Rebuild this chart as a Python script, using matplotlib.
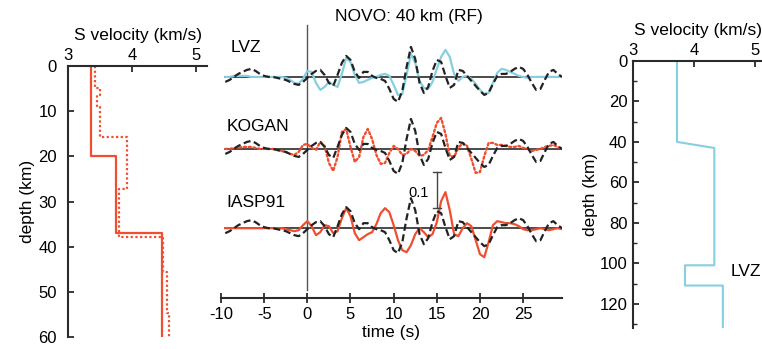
import numpy as np
import matplotlib
matplotlib.use("Agg")
import matplotlib.pyplot as plt

plt.rcParams['font.family'] = ['Liberation Sans', 'DejaVu Sans']
plt.rcParams['axes.unicode_minus'] = False

# ---------------- data ----------------
# Left panel: S-velocity models (layer tops in km, Vs in km/s)
kogan_tops = [0, 4.9, 6.4, 9.0, 15.7, 27.2, 37.9, 45.7, 54.6]
kogan_vs = [3.42, 3.50, 3.45, 3.50, 3.92, 3.79, 4.49, 4.54, 4.57]
iasp_tops = [0, 20, 37]
iasp_vs = [3.36, 3.75, 4.47]
left_bottom = 60

# Right panel: LVZ model vertices
lvz_model_depth = [0, 40, 43, 101, 101, 111, 111, 132]
lvz_model_vs = [3.72, 3.72, 4.33, 4.33, 3.85, 3.85, 4.47, 4.47]

# Middle panel: receiver functions, sampled every 0.5 s from -9.5 s to 29.5 s
# amplitudes in digitizer counts, 36 counts = 0.1 (scale bar)
rf_t0, rf_dt = -9.5, 0.5
observed = [-5, -3, 0, 3, 5, 7, 8, 6, 3, 1,
            0, 0, -1, -2, -3, -5, -7, -8, -5, -1,
            3, 6, 7, 2, -6, -9, 2, 14, 21, 17,
            5, -1, 5, 5, 1, -1, -2, -4, -12, -22,
            -25, -14, 10, 30, 18, -6, -16, -10, 6, 17,
            15, 1, -11, -8, 7, 6, 1, -4, -9, -14,
            -18, -16, -7, 1, 3, 3, 5, 8, 10, 8,
            2, -6, -13, -12, -3, 5, 7, 3, 0]
synth_lvz = [0, 0, 1, 1, 1, 1, 0, 0, 0, 0,
             0, 0, 0, 0, -1, -3, -6, -7, -2, 6,
             5, -6, -13, -10, -5, -8, -10, 3, 19, 15,
             2, -6, -5, -3, -1, 0, 2, 3, 1, -8,
             -18, -17, 2, 23, 14, -4, -11, -12, -5, 8,
             20, 27, 20, 3, -4, 0, 1, -2, -7, -13,
             -17, -16, -6, 4, 8, 7, 5, 3, 1, 0,
             -1, 0, 0, 0, 0, 0, 0, 0, 0]
synth_kogan = [0, 0, 1, 1, 2, 2, 2, 1, 0, 0,
               0, 0, -1, -2, -3, -5, -6, -3, 4, 5,
               1, -1, 7, 3, -14, -22, -8, 17, 20, 2,
               -13, -8, 12, 20, 10, -6, -15, -14, -4, 3,
               0, -6, -5, 0, -2, -7, -6, -1, 12, 26,
               31, 15, -7, -8, 1, 6, 3, -10, -24, -23,
               -7, 6, 6, 4, 4, 3, 2, 2, 3, 1,
               0, -2, -1, 0, 2, 3, 4, 2, 0]
synth_iasp = [0, 0, 0, 0, 0, 0, 0, 0, 0, 0,
              0, 0, 0, 0, -1, -2, -3, -2, 3, 7,
              2, -7, -4, 3, 2, -5, -3, 10, 20, 12,
              -5, -12, -9, -6, -4, 4, 15, 20, 16, 3,
              -12, -22, -24, -17, -6, 0, -4, -9, -6, 6,
              27, 36, 18, -6, -8, 0, 5, 2, -12, -26,
              -29, -14, 3, 7, 6, 5, 5, 4, 2, -1,
              -2, -2, -1, 0, -1, -2, -1, 0, -1]
counts_per_unit = 360.0
trace_labels = ['LVZ', 'KOGAN', 'IASP91']
trace_offsets = [0.0, -0.2, -0.42]
time_ticks = [-10, -5, 0, 5, 10, 15, 20, 25]

RED = '#ef4f30'
CYAN = '#86cfe0'
DARK = '#2b2b2b'


def steps(tops, vs, bottom):
    d, v = [], []
    bnds = list(tops[1:]) + [bottom]
    for top, bot, vel in zip(tops, bnds, vs):
        d += [top, bot]
        v += [vel, vel]
    return d, v


fig = plt.figure(figsize=(7.62, 3.49), dpi=100)
W, H = 762.0, 349.0


def axes_px(l, t, r, b):
    return fig.add_axes([l / W, 1 - b / H, (r - l) / W, (b - t) / H])


FS = 12.5
TFS = 12

# ---------------- left panel ----------------
axl = axes_px(68, 66, 207, 337)
d, v = steps(iasp_tops, iasp_vs, left_bottom)
axl.plot(v, d, color=RED, lw=1.6)
d, v = steps(kogan_tops, kogan_vs, left_bottom)
axl.plot(v, d, color=RED, lw=1.6, ls=(0, (1, 1.1)))
axl.set_xlim(3, 5.17)
axl.set_ylim(60, 0)
axl.xaxis.tick_top()
axl.xaxis.set_label_position('top')
axl.set_xticks([3, 4, 5])
axl.set_yticks([0, 10, 20, 30, 40, 50, 60])
for s in ['right', 'bottom']:
    axl.spines[s].set_visible(False)
for s in ['left', 'top']:
    axl.spines[s].set_color(DARK)
    axl.spines[s].set_linewidth(1.5)
axl.tick_params(direction='in', length=4, width=1.3, color=DARK, labelsize=TFS, pad=2)
axl.tick_params(axis='y', pad=8)
axl.set_xlabel('S velocity (km/s)', fontsize=FS, labelpad=6)
axl.set_ylabel('depth (km)', fontsize=FS, labelpad=2)

# ---------------- right panel ----------------
axr = axes_px(633, 61, 762, 328)
axr.plot(lvz_model_vs, lvz_model_depth, color=CYAN, lw=1.5)
axr.set_xlim(3, 5.11)
axr.set_ylim(132, 0)
axr.xaxis.tick_top()
axr.xaxis.set_label_position('top')
axr.set_xticks([3, 4, 5])
axr.set_yticks([0, 20, 40, 60, 80, 100, 120])
axr.set_yticks([10, 30, 50, 70, 90, 110, 130], minor=True)
for s in ['right', 'bottom']:
    axr.spines[s].set_visible(False)
for s in ['left', 'top']:
    axr.spines[s].set_color(DARK)
    axr.spines[s].set_linewidth(1.5)
axr.tick_params(direction='in', length=4, width=1.3, color=DARK, labelsize=TFS, pad=2)
axr.tick_params(axis='y', pad=4)
axr.tick_params(which='minor', direction='in', length=3, width=1.0, color=DARK)
axr.set_xlabel('S velocity (km/s)', fontsize=FS, labelpad=6)
axr.set_ylabel('depth (km)', fontsize=FS, labelpad=1)
axr.text(4.6, 104, 'LVZ', fontsize=FS, ha='left', va='center')

# ---------------- middle panel ----------------
axm = axes_px(221, 20, 562, 298)
t = rf_t0 + rf_dt * np.arange(len(observed))
amp = lambda c: np.asarray(c, float) / counts_per_unit
synths = [synth_lvz, synth_kogan, synth_iasp]
styles = [dict(color=CYAN, lw=1.6, ls='-'),
          dict(color=RED, lw=1.7, ls=(0, (0.9, 1.1)), dash_capstyle='round'),
          dict(color=RED, lw=1.6, ls='-')]
for syn, off, lab, st in zip(synths, trace_offsets, trace_labels, styles):
    axm.plot([t[0], t[-1]], [off, off], color=DARK, lw=1.2, zorder=1)
    axm.plot(t, off + amp(syn), zorder=2, **st)
    axm.plot(t, off + amp(observed), color='#222222', lw=1.6,
             ls=(0, (3.2, 1.6)), zorder=3)
label_pos = [(-8.9, 0.081), (-9.4, -0.139), (-9.4, -0.35)]
for lab, (lx, ly) in zip(trace_labels, label_pos):
    axm.text(lx, ly, lab, fontsize=FS, ha='left', va='center')
axm.plot([0, 0], [0.144, -0.592], color='#555555', lw=1.0, zorder=0)
# scale bar 0.1
sb_t, sb_top = 15.0, -0.264
axm.plot([sb_t, sb_t], [sb_top, sb_top - 0.1], color='#444444', lw=1.0)
axm.plot([sb_t - 0.45, sb_t + 0.45], [sb_top, sb_top], color='#444444', lw=1.0)
axm.plot([sb_t - 0.45, sb_t + 0.45], [sb_top - 0.1, sb_top - 0.1], color='#444444', lw=1.0)
axm.text(12.9, -0.322, '0.1', fontsize=10.5, ha='center', va='center')
axm.text(11.8, 0.168, 'NOVO: 40 km (RF)', fontsize=FS, ha='center', va='center')
axm.set_xlim(-10, 29.5)
axm.set_ylim(-(298 - 77) / 360.0, 0.158)
for s in ['top', 'right', 'left']:
    axm.spines[s].set_visible(False)
axm.spines['bottom'].set_color(DARK)
axm.spines['bottom'].set_linewidth(1.5)
axm.set_yticks([])
axm.set_xticks(time_ticks)
axm.tick_params(axis='x', direction='inout', length=7, width=1.3, color=DARK,
                labelsize=TFS, pad=3)
axm.set_xlabel('time (s)', fontsize=FS, labelpad=2)

fig.savefig('out.png', dpi=100)
